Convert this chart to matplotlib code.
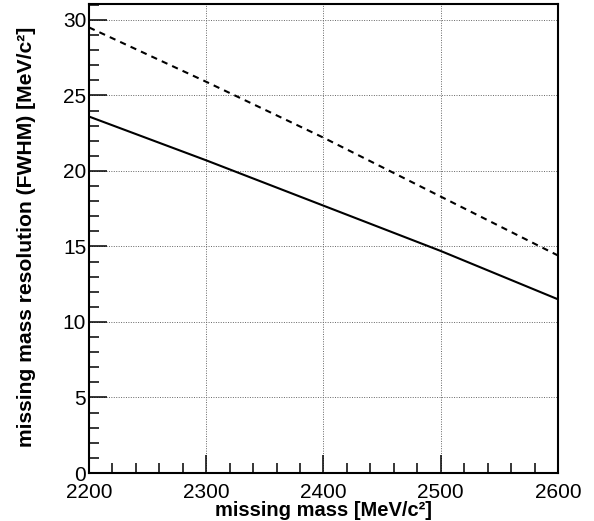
import matplotlib
matplotlib.use("Agg")
import matplotlib.pyplot as plt
from matplotlib.ticker import MultipleLocator

plt.rcParams['font.family'] = ['Liberation Sans', 'DejaVu Sans']

mass = [2200, 2300, 2400, 2500, 2600]
res_solid = [23.6, 20.7, 17.7, 14.7, 11.5]
res_dashed = [29.5, 25.9, 22.2, 18.3, 14.4]

fig = plt.figure(figsize=(5.94, 5.21), dpi=100)
ax = fig.add_axes([0.1498, 0.0921, 0.7896, 0.9002])

ax.plot(mass, res_solid, color='black', lw=1.5, ls='-')
ax.plot(mass, res_dashed, color='black', lw=1.5, ls=(0, (3, 2.5)))

ax.set_xlim(2200, 2600)
ax.set_ylim(0, 31.05)
ax.xaxis.set_major_locator(MultipleLocator(100))
ax.xaxis.set_minor_locator(MultipleLocator(20))
ax.yaxis.set_major_locator(MultipleLocator(5))
ax.yaxis.set_minor_locator(MultipleLocator(1))
ax.grid(True, which='major', color='#666666', ls=(0, (1, 1.5)), lw=0.7)

ax.tick_params(which='both', direction='in', top=False, right=False,
               labelsize=15, width=1.1, color='black')
ax.tick_params(axis='x', which='major', length=13, pad=7.5)
ax.tick_params(axis='y', which='major', length=13, pad=2)
ax.tick_params(which='minor', length=7)
for s in ax.spines.values():
    s.set_linewidth(1.5)

ax.set_xlabel('missing mass [MeV/c²]', fontsize=14.5, fontweight='bold')
ax.set_ylabel('missing mass resolution (FWHM) [MeV/c²]', fontsize=15.2, fontweight='bold')
ax.xaxis.set_label_coords(0.5, -0.060)
ax.yaxis.set_label_coords(-0.112, 0.503)

fig.savefig('out.png', dpi=100)
